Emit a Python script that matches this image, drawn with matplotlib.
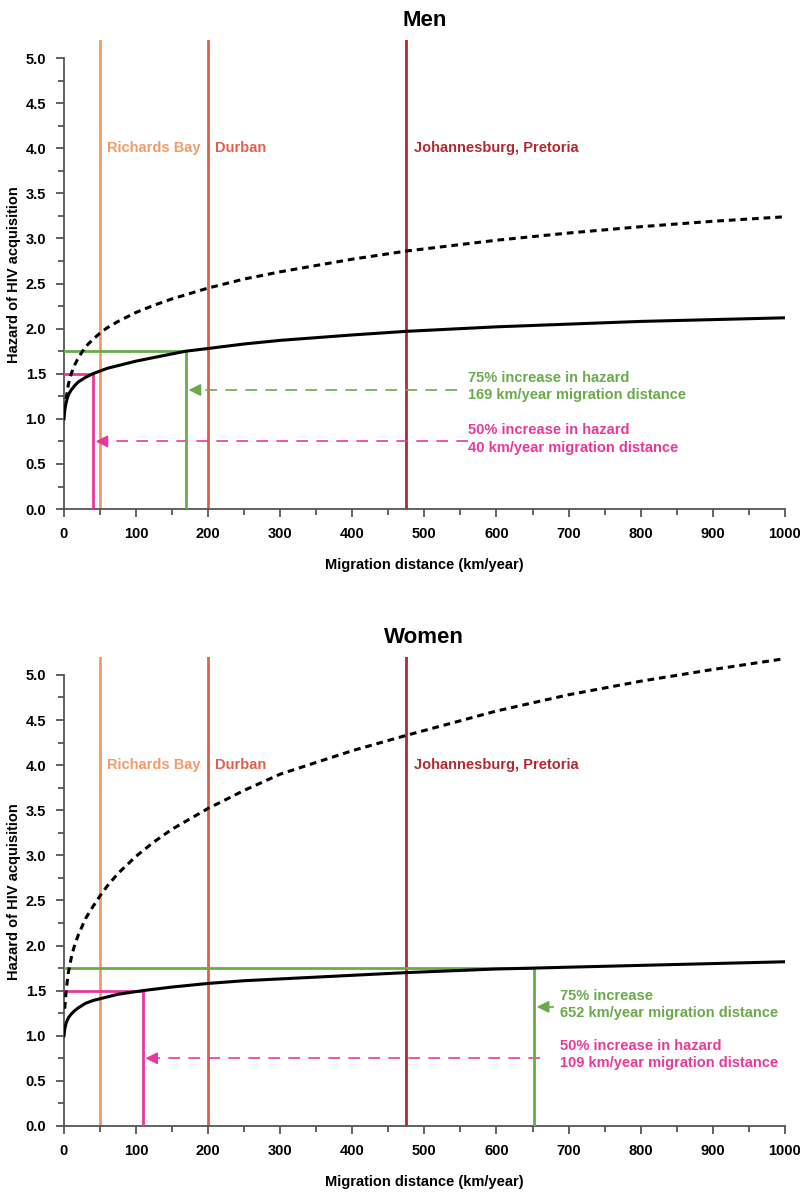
import matplotlib.pyplot as plt
from matplotlib.ticker import MultipleLocator
from matplotlib.transforms import ScaledTranslation

plt.rcParams['font.family'] = ['Liberation Sans', 'DejaVu Sans']

# distances (km/year) where the curves were read
dist_men = [0, 1, 2, 3, 5, 7, 10, 15, 20, 30, 40, 50, 60, 75, 100, 125, 150, 169, 200, 250, 300, 350, 400, 475, 600, 700, 800, 900, 1000]
men_solid = [1.0, 1.09, 1.14, 1.18, 1.24, 1.28, 1.32, 1.37, 1.41, 1.46, 1.50, 1.53, 1.56, 1.59, 1.64, 1.68, 1.72, 1.75, 1.78, 1.83, 1.87, 1.90, 1.93, 1.97, 2.02, 2.05, 2.08, 2.10, 2.12]
dist_men_d = [3, 6, 10, 15, 20, 30, 40, 50, 60, 75, 100, 125, 150, 200, 250, 300, 400, 475, 600, 700, 800, 900, 1000]
men_dashed = [1.22, 1.38, 1.50, 1.60, 1.68, 1.80, 1.88, 1.95, 2.01, 2.08, 2.18, 2.26, 2.33, 2.45, 2.55, 2.63, 2.77, 2.86, 2.98, 3.06, 3.13, 3.19, 3.24]

dist_women = [0, 1, 2, 3, 5, 7, 10, 15, 20, 30, 40, 50, 75, 109, 150, 200, 250, 300, 400, 475, 600, 652, 700, 800, 900, 1000]
women_solid = [1.0, 1.07, 1.11, 1.14, 1.18, 1.21, 1.24, 1.28, 1.31, 1.36, 1.39, 1.41, 1.46, 1.50, 1.54, 1.58, 1.61, 1.63, 1.67, 1.70, 1.74, 1.75, 1.76, 1.78, 1.80, 1.82]
dist_women_d = [1, 3, 6, 11, 15, 20, 30, 40, 50, 60, 75, 100, 125, 150, 200, 250, 300, 400, 475, 600, 700, 800, 900, 1000]
women_dashed = [1.30, 1.50, 1.70, 1.90, 2.01, 2.12, 2.30, 2.43, 2.55, 2.66, 2.80, 2.99, 3.15, 3.29, 3.52, 3.72, 3.90, 4.16, 4.33, 4.60, 4.78, 4.93, 5.06, 5.18]

cities = ['Richards Bay', 'Durban', 'Johannesburg, Pretoria']
city_dist = [50, 200, 475]
city_colors = ['#F29A68', '#E0604A', '#B02A30']

levels = [1.5, 1.75]  # 50% and 75% increase
men_thresh = [40, 169]
women_thresh = [109, 652]

green = '#6BAA4B'
pink = '#E8389B'

fig = plt.figure(figsize=(8, 11.93), dpi=100)
ax1 = fig.add_axes([0.08, 0.5733, 0.901, 0.3932])
ax2 = fig.add_axes([0.08, 0.0562, 0.901, 0.3932])


def base(ax, title, dist, solid, dist_d, dashed):
    for d, c in zip(city_dist, city_colors):
        ax.axvline(d, color=c, lw=2)
    for name, d, c in zip(cities, city_dist, city_colors):
        ax.text(d + 10, 4.0, name, color=c, fontsize=10.5, fontweight='bold', va='center')
    ax.plot(dist, solid, color='black', lw=2.2, zorder=5)
    ax.plot(dist_d, dashed, color='black', lw=2.2, ls=(0, (2.2, 1.6)), zorder=5)
    ax.set_xlim(0, 1000)
    ax.set_ylim(0, 5.2)
    ax.spines['top'].set_visible(False)
    ax.spines['right'].set_visible(False)
    ax.spines['left'].set_bounds(0, 5)
    for s in ['left', 'bottom']:
        ax.spines[s].set_color('#555555')
        ax.spines[s].set_linewidth(1.3)
    ax.xaxis.set_major_locator(MultipleLocator(100))
    ax.xaxis.set_minor_locator(MultipleLocator(50))
    ax.yaxis.set_minor_locator(MultipleLocator(0.25))
    ax.set_yticks([i * 0.5 for i in range(11)])
    ax.set_yticklabels(['%.1f' % (i * 0.5) for i in range(11)])
    ax.tick_params(which='major', length=6, width=1.3, color='#555555', labelsize=10.5, pad=7)
    ax.tick_params(which='minor', length=4, width=1.3, color='#555555')
    for lab in ax.get_xticklabels() + ax.get_yticklabels():
        lab.set_fontweight('bold')
    last = ax.get_xticklabels()[-1]
    last.set_transform(last.get_transform() + ScaledTranslation(-4 / 72, 0, fig.dpi_scale_trans))
    ax.set_xlabel('Migration distance (km/year)', fontsize=10.5, fontweight='bold', labelpad=12)
    ax.set_ylabel('Hazard of HIV acquisition', fontsize=10.5, fontweight='bold', labelpad=3)
    ax.set_title(title, fontsize=16, fontweight='bold', pad=10)


def guide(ax, lev, x, color):
    ax.plot([0, x], [lev, lev], color=color, lw=2, zorder=4)
    ax.plot([x, x], [0, lev], color=color, lw=2, zorder=4)


def arrow(ax, y, x_from, x_to, color):
    ax.plot([x_from, x_to + 15], [y, y], color=color, lw=1.2, ls=(0, (7, 5)))
    ax.annotate('', xy=(x_to, y), xytext=(x_to + 18, y),
                arrowprops=dict(arrowstyle='-|>', color=color, lw=1.2, mutation_scale=18))


def label(ax, x, y, txt, color):
    ax.text(x, y, txt, color=color, fontsize=10.5, fontweight='bold', va='center', linespacing=1.3)


base(ax1, 'Men', dist_men, men_solid, dist_men_d, men_dashed)
guide(ax1, levels[1], men_thresh[1], green)
guide(ax1, levels[0], men_thresh[0], pink)
arrow(ax1, 1.32, 545, men_thresh[1], green)
arrow(ax1, 0.75, 560, men_thresh[0], pink)
label(ax1, 560, 1.355, '75% increase in hazard\n169 km/year migration distance', green)
label(ax1, 560, 0.775, '50% increase in hazard\n40 km/year migration distance', pink)

base(ax2, 'Women', dist_women, women_solid, dist_women_d, women_dashed)
guide(ax2, levels[1], women_thresh[1], green)
guide(ax2, levels[0], women_thresh[0], pink)
arrow(ax2, 1.32, 680, women_thresh[1], green)
arrow(ax2, 0.75, 660, women_thresh[0], pink)
label(ax2, 688, 1.345, '75% increase\n652 km/year migration distance', green)
label(ax2, 688, 0.79, '50% increase in hazard\n109 km/year migration distance', pink)

fig.savefig('out.png', dpi=100)
